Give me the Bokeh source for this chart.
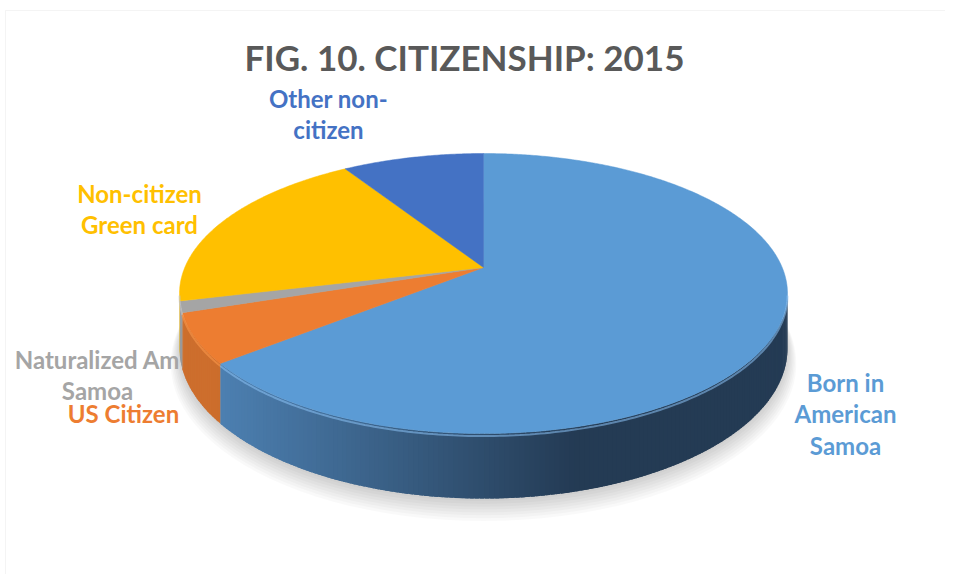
import math
from bokeh.plotting import figure
from bokeh.models import Range1d, BoxAnnotation
from bokeh.core.properties import value
from bokeh.embed import file_html
from bokeh.resources import INLINE

# ---- data ----
categories = ["Born in American Samoa", "US Citizen", "Naturalized Am Samoa",
              "Non-citizen Green card", "Other non-citizen"]
values = [64.2, 5.7, 1.3, 19.8, 9.0]
label_lines = [["Born in", "American", "Samoa"], ["US Citizen"],
               ["Naturalized Am", "Samoa"], ["Non-citizen", "Green card"],
               ["Other non-", "citizen"]]
title_text = "FIG. 10. CITIZENSHIP: 2015"

# ---- style / layout ----
top_colors = ["#5B9BD5", "#ED7D31", "#A5A5A5", "#FFC000", "#4472C4"]
side_light = [(78, 130, 180), (205, 110, 45), (150, 150, 150), (215, 165, 0), (60, 100, 170)]
side_dark = [(36, 59, 84), (150, 75, 30), (110, 110, 110), (170, 130, 0), (40, 70, 120)]
label_colors = ["#5B9BD5", "#ED7D31", "#A5A5A5", "#FFC000", "#4472C4"]
label_pos = [(845, 381.5), (123, 412.5), (97, 358.5), (139, 192.5), (328, 97.5)]  # first-line anchors
line_gap = 31.5

W, H = 945, 574
CX, CY = 483.0, 267.0
A, B, K, D = 298.7, 135.2, 0.186, 52.9


def proj(theta_deg, drop=0.0, grow=1.0):
    t = math.radians(theta_deg)
    u, v = math.sin(t) * grow, math.cos(t) * grow
    s = 1.0 / (1.0 + K * v)
    return CX + A * u * s, CY - B * v * s + drop * s


p = figure(width=W, height=H, output_backend="svg", toolbar_location=None,
           x_range=Range1d(0, W), y_range=Range1d(H, 0),
           min_border=0, x_axis_location=None, y_axis_location=None)
p.grid.visible = False
p.outline_line_color = None
p.background_fill_color = "white"
p.border_fill_color = "white"
p.add_layout(BoxAnnotation(left=5, top=10, right=W + 20, bottom=H + 20,
                           fill_alpha=0, line_color="#d9d9d9", line_width=1))

# shadow
for i in range(8):
    pts = [proj(a, D + 2 + i * 1.6, 1.0 + 0.004 * i) for a in range(0, 361, 3)]
    p.patch([q[0] for q in pts], [q[1] for q in pts], fill_color="#000000",
            fill_alpha=0.022, line_color=None)

# slice angles
total = sum(values)
starts, ends = [], []
acc = 0.0
for v in values:
    starts.append(acc / total * 360.0)
    acc += v
    ends.append(acc / total * 360.0)

sil_lo = math.degrees(math.acos(-K))
sil_hi = 360.0 - sil_lo
x_left = CX - A / math.sqrt(1 - K * K)
x_right = CX + A / math.sqrt(1 - K * K)

# side walls
sx, sy, sc = [], [], []
for i in range(len(values)):
    a0, a1 = max(starts[i], sil_lo), min(ends[i], sil_hi)
    if a1 <= a0:
        continue
    n = max(1, int((a1 - a0) / 0.8))
    step = (a1 - a0) / n
    for j in range(n):
        t0 = a0 + step * j
        t1 = min(a1, t0 + step * 1.8)
        p0, p1 = proj(t0), proj(t1)
        b1, b0 = proj(t1, D), proj(t0, D)
        xm = (p0[0] + p1[0]) / 2
        f = (xm - x_left) / (x_right - x_left)
        f = min(1.0, max(0.0, (f - 0.05) / 0.6))
        L, Dk = side_light[i], side_dark[i]
        c = tuple(int(L[k] + (Dk[k] - L[k]) * f) for k in range(3))
        col = "#%02x%02x%02x" % c
        sx.append([p0[0], p1[0], b1[0], b0[0]])
        sy.append([p0[1], p1[1], b1[1], b0[1]])
        sc.append(col)
p.patches(sx, sy, fill_color=sc, line_color=None)

# top faces
tx, ty = [], []
for i in range(len(values)):
    n = max(2, int((ends[i] - starts[i]) / 0.5))
    pts = [(CX, CY)] + [proj(starts[i] + (ends[i] - starts[i]) * j / n) for j in range(n + 1)]
    tx.append([q[0] for q in pts])
    ty.append([q[1] for q in pts])
p.patches(tx, ty, fill_color=top_colors, line_color=top_colors, line_width=0.5)

# front bevel highlight
for i in range(len(values)):
    a0, a1 = max(starts[i], sil_lo), min(ends[i], sil_hi)
    if a1 <= a0:
        continue
    n = max(2, int((a1 - a0) / 0.8))
    pts = [proj(a0 + (a1 - a0) * j / n, 2.0) for j in range(n + 1)]
    hl = "#8cc3f5" if i == 0 else ("#ff9a4d" if i == 1 else "#c8c8c8")
    p.line([q[0] for q in pts], [q[1] for q in pts], line_color=hl,
           line_width=2, line_alpha=0.55)

# title
p.text(x=[464], y=[56.5], text=[title_text], text_font=value("Lato"),
       text_font_style="bold", text_font_size="35px", text_color="#595959",
       text_align="center", text_baseline="alphabetic")

# labels
for i in range(len(values)):
    lx, ly = label_pos[i]
    lines = label_lines[i]
    p.text(x=[lx] * len(lines), y=[ly + line_gap * j for j in range(len(lines))],
           text=lines, text_font=value("Lato"), text_font_style="bold",
           text_font_size="24px", text_color=label_colors[i],
           text_align="center", text_baseline="alphabetic")

open("out.html", "w").write(file_html(p, INLINE))
